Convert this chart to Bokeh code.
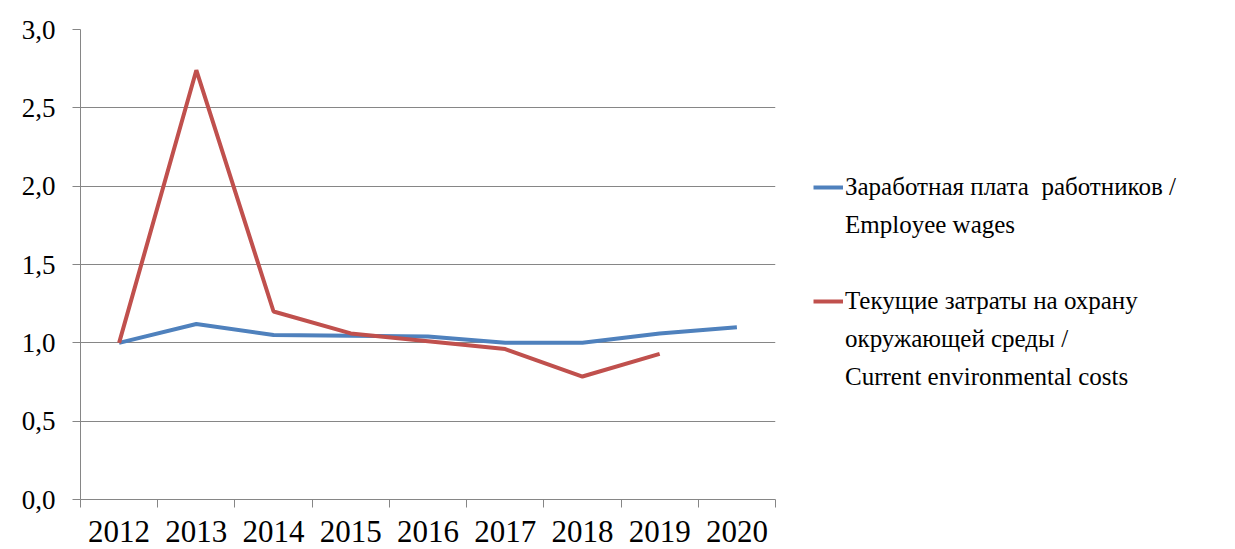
from bokeh.plotting import figure
from bokeh.models import (Range1d, FixedTicker, CustomJSTickFormatter, Legend,
                          LegendItem, ColumnDataSource)
from bokeh.embed import file_html
from bokeh.resources import INLINE

# ---- data ----
years = ["2012", "2013", "2014", "2015", "2016", "2017", "2018", "2019", "2020"]
wages = [1.00, 1.12, 1.05, 1.045, 1.04, 1.00, 1.00, 1.06, 1.10]
env_years = ["2012", "2013", "2014", "2015", "2016", "2017", "2018", "2019"]
env_costs = [1.00, 2.74, 1.20, 1.06, 1.01, 0.96, 0.785, 0.93]
y_ticks = [0.0, 0.5, 1.0, 1.5, 2.0, 2.5, 3.0]
wage_label = ["Заработная плата  работников /", "Employee wages"]
env_label = ["Текущие затраты на охрану", "окружающей среды /", "Current environmental costs"]

FONT = "'Liberation Serif', 'Times New Roman', serif"
GRAY = "#868686"
BLUE = "#4F81BD"
RED = "#C0504D"

pos = {y: i + 0.5 for i, y in enumerate(years)}
src_w = ColumnDataSource(dict(x=[pos[y] for y in years], y=wages))
src_e = ColumnDataSource(dict(x=[pos[y] for y in env_years], y=env_costs))

p = figure(frame_width=695, frame_height=470, output_backend="svg", toolbar_location=None,
           x_range=Range1d(0, len(years)), y_range=Range1d(0, 3),
           min_border_left=80, min_border_right=50, min_border_top=29,
           min_border_bottom=50)
p.outline_line_color = None
p.background_fill_color = "white"
p.border_fill_color = "white"

# x axis: labels at category centres, tick marks between categories
xa = p.xaxis[0]
xa.ticker = FixedTicker(ticks=[i + 0.5 for i in range(len(years))],
                        minor_ticks=list(range(len(years) + 1)))
xa.formatter = CustomJSTickFormatter(args=dict(labels=years),
                                     code="return labels[Math.floor(tick)];")
xa.major_tick_line_color = None
xa.major_tick_out = 0
xa.major_tick_in = 0
xa.minor_tick_line_color = GRAY
xa.minor_tick_out = 8
xa.minor_tick_in = 0
xa.axis_line_color = GRAY
xa.major_label_text_font = FONT
xa.major_label_text_font_size = "31px"
xa.major_label_text_color = "black"
xa.major_label_standoff = 13

ya = p.yaxis[0]
ya.ticker = FixedTicker(ticks=y_ticks, minor_ticks=[])
ya.formatter = CustomJSTickFormatter(code="return tick.toFixed(1).replace('.', ',');")
ya.major_tick_line_color = GRAY
ya.major_tick_out = 8
ya.major_tick_in = 0
ya.minor_tick_line_color = None
ya.axis_line_color = GRAY
ya.major_label_text_font = FONT
ya.major_label_text_font_size = "27px"
ya.major_label_text_color = "black"
ya.major_label_standoff = 17

p.xgrid.grid_line_color = None
p.ygrid.grid_line_color = GRAY
p.ygrid.ticker = FixedTicker(ticks=y_ticks)

r_w = p.line("x", "y", source=src_w, line_color=BLUE, line_width=4)
r_e = p.line("x", "y", source=src_e, line_color=RED, line_width=4)
r_blank = p.line(x=[], y=[], line_alpha=0)  # carries continuation lines of legend labels

items = [LegendItem(label=wage_label[0], renderers=[r_w])]
items += [LegendItem(label=t, renderers=[r_blank]) for t in wage_label[1:]]
items += [LegendItem(label=" ", renderers=[r_blank])]
items += [LegendItem(label=env_label[0], renderers=[r_e])]
items += [LegendItem(label=t, renderers=[r_blank]) for t in env_label[1:]]

legend = Legend(items=items, location=(38, 108))
legend.label_text_font = FONT
legend.label_text_font_size = "25px"
legend.label_text_color = "black"
legend.label_height = 28
legend.glyph_width = 30
legend.glyph_height = 20
legend.label_standoff = 2
legend.spacing = 10
legend.padding = 0
legend.margin = 0
legend.border_line_color = None
legend.background_fill_alpha = 0
p.add_layout(legend, "right")

open("out.html", "w").write(file_html(p, INLINE))
